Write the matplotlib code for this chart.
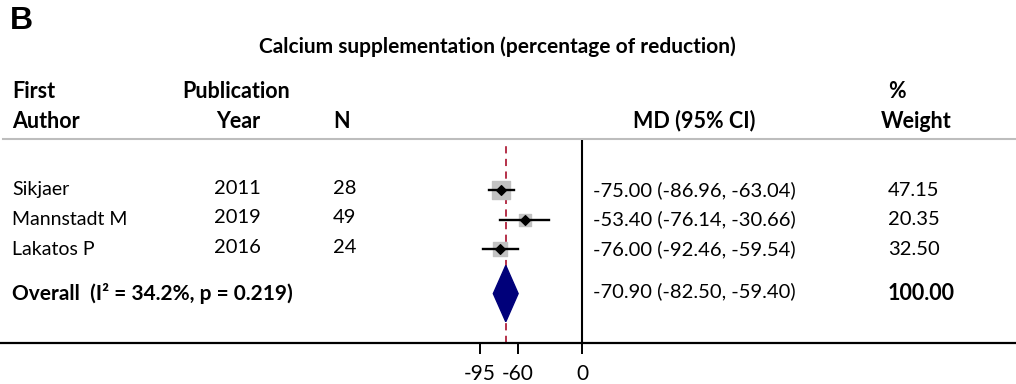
import matplotlib
matplotlib.use("Agg")
import matplotlib.pyplot as plt
from matplotlib.patches import Polygon

# study data
authors = ["Sikjaer", "Mannstadt M", "Lakatos P"]
years = ["2011", "2019", "2016"]
n_sizes = ["28", "49", "24"]
md = [-75.00, -53.40, -76.00]
ci_low = [-86.96, -76.14, -92.46]
ci_high = [-63.04, -30.66, -59.54]
weights = [47.15, 20.35, 32.50]

overall_md = -70.90
overall_low = -82.50
overall_high = -59.40
overall_label = "Overall  (I² = 34.2%, p = 0.219)"

xticks = [-95, -60, 0]

FONT = "Lato"
fs = 14
fnum = 14.5
fb = 15.5

fig = plt.figure(figsize=(10.16, 3.84), dpi=100)

# text layer, pixel-like coordinates
tx = fig.add_axes([0, 0, 1, 1])
tx.set_xlim(0, 1016)
tx.set_ylim(384, 0)
tx.axis("off")

# forest panel
ax = fig.add_axes([0, (384 - 343) / 384, 1, (343 - 140) / 384])
px_per_unit = 1.075
zero_px = 582
ax.set_xlim(-zero_px / px_per_unit, (1016 - zero_px) / px_per_unit)
row_h = 29.6
ax.set_ylim((343 - 190) / row_h, (140 - 190) / row_h)
ax.patch.set_alpha(0)
for s in ["top", "left", "right"]:
    ax.spines[s].set_visible(False)
ax.spines["bottom"].set_linewidth(1.6)
ax.set_yticks([])
ax.set_xticks(xticks)
ax.set_xticklabels([str(t) for t in xticks], fontsize=15, fontfamily=FONT)
ax.tick_params(axis="x", length=8, width=1.4, pad=7)

rows = [0, 1, 2]
overall_row = 3.5

ax.axvline(0, color="black", lw=1.5, ymin=0, ymax=1)
ax.axvline(overall_md, color="#b0213b", lw=1.3, ls=(0, (4, 3)), ymin=0, ymax=0.97)

for i, r in enumerate(rows):
    ax.plot([ci_low[i], ci_high[i]], [r, r], color="black", lw=1.7, zorder=3)
    ax.scatter(md[i], r, marker="s", s=3.3 * weights[i], color="#c2c2c2", zorder=2)
    ax.scatter(md[i], r, marker="D", s=24, color="black", zorder=4)

dh = 0.95
diamond = Polygon([[overall_low, overall_row], [overall_md, overall_row - dh],
                   [overall_high, overall_row], [overall_md, overall_row + dh]],
                  closed=True, facecolor="#00007a", edgecolor="#00007a", zorder=3)
ax.add_patch(diamond)

# header line
tx.plot([3, 1016], [139, 139], color="#bdbdbd", lw=1.5)

# panel letter and title
tx.text(10, 21, "B", fontsize=23, fontweight="bold", fontfamily="Liberation Sans", va="center")
tx.text(497, 47, "Calcium supplementation (percentage of reduction)", fontsize=15,
        fontweight="bold", fontfamily=FONT, ha="center", va="center")

# column headers
hy1, hy2 = 92, 121
tx.text(12, hy1, "First", fontsize=fb, fontweight="bold", fontfamily=FONT, va="center")
tx.text(12, hy2, "Author", fontsize=fb, fontweight="bold", fontfamily=FONT, va="center")
tx.text(236, hy1, "Publication", fontsize=fb, fontweight="bold", fontfamily=FONT, va="center", ha="center")
tx.text(238, hy2, "Year", fontsize=fb, fontweight="bold", fontfamily=FONT, va="center", ha="center")
tx.text(333, hy2, "N", fontsize=fb, fontweight="bold", fontfamily=FONT, va="center")
tx.text(694, hy2, "MD (95% CI)", fontsize=fb, fontweight="bold", fontfamily=FONT, va="center", ha="center")
tx.text(897, hy1, "%", fontsize=fb, fontweight="bold", fontfamily=FONT, va="center", ha="center")
tx.text(916, hy2, "Weight", fontsize=fb, fontweight="bold", fontfamily=FONT, va="center", ha="center")

# study rows
for i, r in enumerate(rows):
    y = 190 + r * row_h
    tx.text(12, y, authors[i], fontsize=fs, fontfamily=FONT, va="center")
    tx.text(237, y - 2, years[i], fontsize=fnum, fontfamily=FONT, va="center", ha="center")
    tx.text(333, y - 2, n_sizes[i], fontsize=fnum, fontfamily=FONT, va="center")
    tx.text(593, y, f"{md[i]:.2f} ({ci_low[i]:.2f}, {ci_high[i]:.2f})",
            fontsize=fnum, fontfamily=FONT, va="center")
    tx.text(888, y, f"{weights[i]:.2f}", fontsize=fnum, fontfamily=FONT, va="center")

oy = 190 + overall_row * row_h
tx.text(12, oy, overall_label, fontsize=15, fontweight="bold", fontfamily=FONT, va="center")
tx.text(593, oy - 2, f"{overall_md:.2f} ({overall_low:.2f}, {overall_high:.2f})",
        fontsize=fnum, fontfamily=FONT, va="center")
tx.text(888, oy, f"{sum(weights):.2f}", fontsize=fb, fontweight="bold", fontfamily=FONT, va="center")

fig.savefig("out.png", dpi=100)
